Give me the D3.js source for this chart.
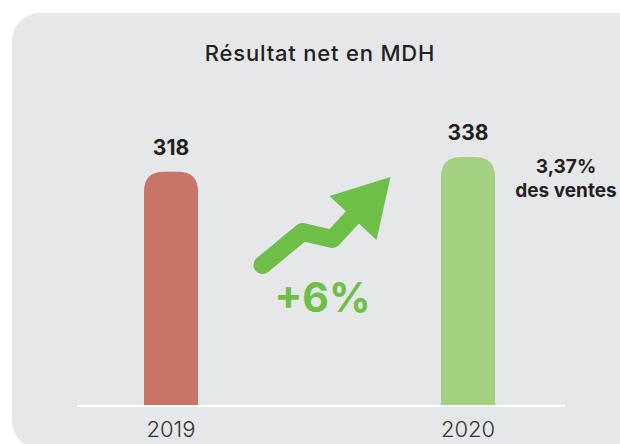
<!DOCTYPE html>
<html>
<head>
<meta charset="utf-8">
<script src="https://cdn.jsdelivr.net/npm/d3@7"></script>
<style>
	body { margin: 0; background: #fff; }
	svg { display: block; font-family: Inter, 'Noto Sans', sans-serif; }
</style>
</head>
<body>
<div id="chart"></div>
<script>

// data
const years = ['2019', '2020'];
const values = [318, 338];
const barColors = ['#c87467', '#a3d17f'];
const title = 'Résultat net en MDH';
const growthLabel = '+6%';
const noteLines = ['3,37%', 'des ventes'];

const width = 620;
const height = 444;
const baseY = 406;
const barWidth = 54;
const radius = 20;
const green = '#6dbf47';

const svg = d3.select('#chart')
	.append('svg')
		.attr('width', width)
		.attr('height', height);

// grey panel
svg.append('rect')
	.attr('x', 12)
	.attr('y', 13)
	.attr('width', 640)
	.attr('height', 436)
	.attr('rx', 28)
	.attr('fill', '#e6e7e9');

svg.append('text')
	.attr('x', 320)
	.attr('y', 61)
	.attr('text-anchor', 'middle')
	.attr('fill', '#231f20')
	.style('font-size', '22px')
	.style('font-weight', 500)
	.style('letter-spacing', '0.8px')
	.text(title);

const xScale = d3.scalePoint()
	.domain(years)
	.range([171, 468]);

const yScale = d3.scaleLinear()
	.domain([0, 338])
	.range([baseY, 157]);

function barPath(cx, top) {
	let x0 = cx - barWidth / 2, x1 = cx + barWidth / 2;
	return `M${x0},${baseY} L${x0},${top + radius} Q${x0},${top} ${x0 + radius},${top}`
		+ ` L${x1 - radius},${top} Q${x1},${top} ${x1},${top + radius} L${x1},${baseY} Z`;
}

svg.selectAll('path.bar')
	.data(years)
	.enter().append('path')
		.attr('class', 'bar')
		.attr('d', function(d, i) {
			return barPath(xScale(d), yScale(values[i]));
		})
		.attr('fill', function(d, i) { return barColors[i]; });

// baseline
svg.append('line')
	.attr('x1', 77)
	.attr('x2', 565)
	.attr('y1', baseY)
	.attr('y2', baseY)
	.attr('stroke', '#fff')
	.attr('stroke-width', 2);

svg.selectAll('text.value')
	.data(years)
	.enter().append('text')
		.attr('class', 'value')
		.attr('x', function(d) { return xScale(d); })
		.attr('y', function(d, i) { return yScale(values[i]) - 17; })
		.attr('text-anchor', 'middle')
		.attr('fill', '#231f20')
		.style('font-size', '21px')
		.style('font-weight', 700)
		.text(function(d, i) { return values[i]; });

svg.selectAll('text.year')
	.data(years)
	.enter().append('text')
		.attr('class', 'year')
		.attr('x', function(d) { return xScale(d); })
		.attr('y', 437)
		.attr('text-anchor', 'middle')
		.attr('fill', '#333')
		.style('font-size', '22px')
		.style('font-weight', 300)
		.text(function(d) { return d; });

// note next to 2020 bar
svg.append('text')
	.attr('x', 566)
	.attr('y', 173)
	.attr('text-anchor', 'middle')
	.attr('fill', '#231f20')
	.style('font-size', '19px')
	.style('font-weight', 700)
	.selectAll('tspan')
	.data(noteLines)
	.enter().append('tspan')
		.attr('x', 566)
		.attr('dy', function(d, i) { return i == 0 ? 0 : 24; })
		.text(function(d) { return d; });

// growth arrow between the bars
let mid = (xScale(years[0]) + xScale(years[1])) / 2;
svg.append('path')
	.attr('d', d3.line()([[mid - 57, 265], [mid - 17, 232], [mid + 13, 239], [mid + 37, 213]]))
	.attr('fill', 'none')
	.attr('stroke', green)
	.attr('stroke-width', 18)
	.attr('stroke-linecap', 'round')
	.attr('stroke-linejoin', 'round');

svg.append('path')
	.attr('d', `M${mid + 10},196 L${mid + 71},177 L${mid + 57},240 Z`)
	.attr('fill', green);

svg.append('text')
	.attr('x', mid + 3)
	.attr('y', 312)
	.attr('text-anchor', 'middle')
	.attr('fill', green)
	.style('font-size', '41px')
	.style('font-weight', 700)
	.text(growthLabel);

</script>
</body>
</html>
